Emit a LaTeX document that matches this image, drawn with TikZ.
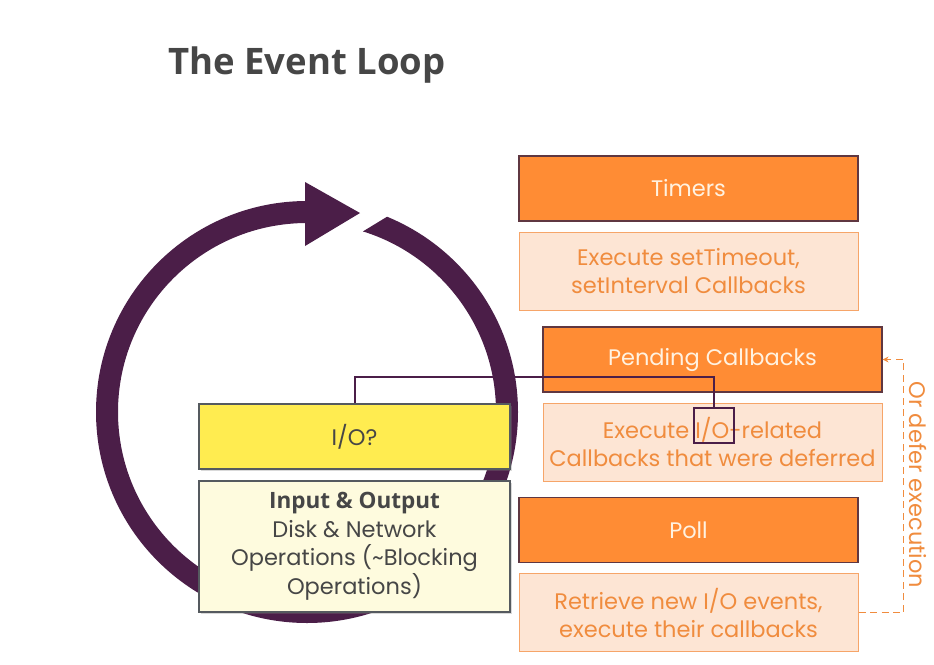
\documentclass[tikz,border=0pt]{standalone}
\usepackage{fontspec}
\setmainfont{Poppins}
\newfontfamily\headfont{Open Sans}
\usetikzlibrary{positioning,calc,shadows,arrows.meta}

\definecolor{loopPurple}{RGB}{75,30,72}
\definecolor{phaseFill}{RGB}{255,140,52}
\definecolor{phaseEdge}{RGB}{95,55,65}
\definecolor{phaseText}{RGB}{255,242,225}
\definecolor{detailFill}{RGB}{253,229,212}
\definecolor{detailEdge}{RGB}{246,165,105}
\definecolor{detailText}{RGB}{240,140,62}
\definecolor{ioFill}{RGB}{255,236,80}
\definecolor{ioInfoFill}{RGB}{254,251,222}
\definecolor{ioEdge}{RGB}{85,90,95}
\definecolor{darkText}{RGB}{70,70,70}

\begin{document}
\begin{tikzpicture}[
    x=1pt, y=-1pt,
    phase/.style={draw=phaseEdge, line width=1.2pt, fill=phaseFill, minimum width=339pt, minimum height=65pt, inner sep=0pt, text=phaseText, font=\fontsize{22.5}{26}\selectfont},
    detail/.style={draw=detailEdge, line width=1pt, fill=detailFill, minimum width=339pt, minimum height=78pt, inner sep=0pt, align=center, text=detailText, font=\fontsize{22.5}{28}\selectfont},
    iobox/.style={draw=ioEdge, line width=1.2pt, minimum width=311pt, inner sep=0pt, align=center, text=darkText, font=\fontsize{22.5}{28.5}\selectfont, drop shadow={shadow xshift=1.5pt, shadow yshift=-1.5pt, opacity=0.3}},
    link/.style={draw=loopPurple, line width=2pt},
    defer/.style={draw=detailText, line width=1.4pt, dash pattern=on 7pt off 4.5pt, -{Stealth[length=6pt, width=6pt]}}
]
\useasboundingbox (0,0) rectangle (934,664);

% Title
\node[anchor=base west, inner sep=0pt, text=darkText, font=\headfont\bfseries\fontsize{36.5}{40}\selectfont] (title) at (168,74) {The Event Loop};

% Loop ring
\begin{scope}
    \clip (0,0) -- (305,0) -- (305,266.7) -- (600,87) -- (600,664) -- (0,664) -- cycle;
    \draw[loopPurple, line width=22pt] (307,412) circle[radius=200pt];
\end{scope}
\fill[loopPurple] (305,182) -- (360,213) -- (305,246) -- cycle;

% Phases
\node[phase] (timers) at (688.5,188.5) {Timers};
\node[detail, below=10pt of timers] (timersdesc) {Execute setTimeout,\\setInterval Callbacks};

\node[phase] (pending) at (712.5,359.5) {Pending Callbacks};
\node[detail, below=10pt of pending] (pendingdesc) {Execute I/O-related\\Callbacks that were deferred};

\node[phase] (poll) at (688.5,530) {Poll};
\node[detail, below=10pt of poll] (polldesc) {Retrieve new I/O events,\\execute their callbacks};

% I/O boxes
\node[iobox, fill=ioFill, minimum height=65pt] (io) at (354.5,436.5) {I/O?};
\node[iobox, fill=ioInfoFill, minimum height=131pt] (ioinfo) at (354.5,546.5) {{\headfont\bfseries Input \& Output}\\Disk \& Network\\Operations (\textasciitilde Blocking\\Operations)};

% I/O mark and link
\node[draw=loopPurple, line width=2pt, minimum width=40pt, minimum height=35pt, inner sep=0pt] (iomark) at (714,425.5) {};
\draw[link] (io.north) -- ++(0,-26) -| (iomark.north);

% Deferred callbacks
\draw[defer] (polldesc.east) -- ++(45,0) |- (pending.east);
\node[rotate=-90, text=detailText, font=\fontsize{22.5}{26}\selectfont] (deferlabel) at (918,485) {Or defer execution};

\end{tikzpicture}
\end{document}
